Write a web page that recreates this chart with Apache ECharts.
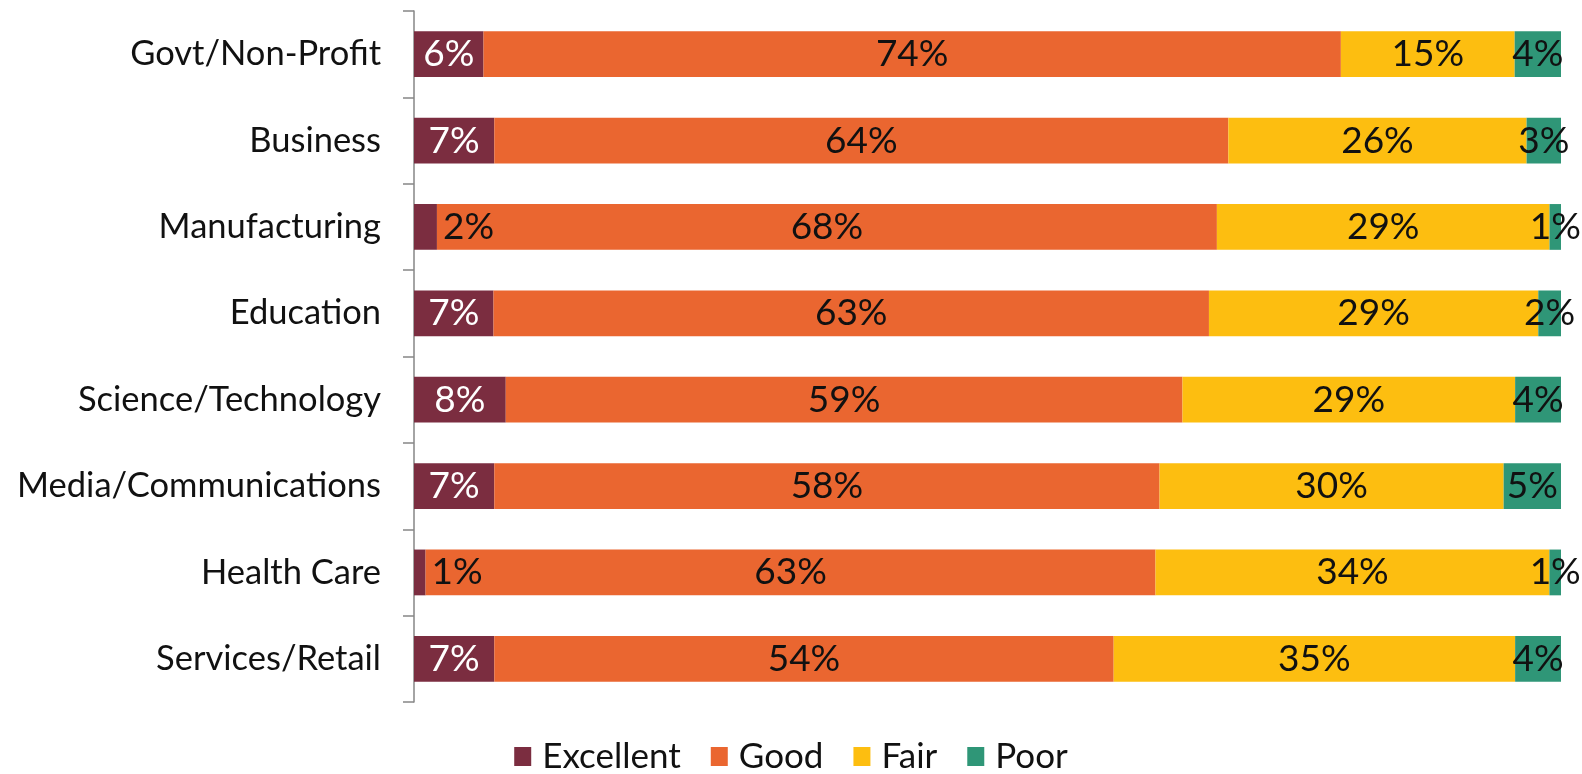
<!DOCTYPE html>
<html>
<head>
<meta charset="utf-8">
<script src="https://cdn.jsdelivr.net/npm/echarts@6/dist/echarts.min.js"></script>
<style>
html,body{margin:0;padding:0;background:#fff;}
#chart{width:1582px;height:774px;}
</style>
</head>
<body>
<div id="chart"></div>
<script>
var categories = ['Govt/Non-Profit','Business','Manufacturing','Education','Science/Technology','Media/Communications','Health Care','Services/Retail'];
var seriesNames = ['Excellent','Good','Fair','Poor'];
var excellent = [6,7,2,7,8,7,1,7];
var good = [74,64,68,63,59,58,63,54];
var fair = [15,26,29,29,29,30,34,35];
var poor = [4,3,1,2,4,5,1,4];

var raw = [excellent, good, fair, poor];
var colors = ['#7B2D40','#EA6630','#FDBE10','#2F9677'];
var FONT = 'Lato';

function rowTotal(i){ return excellent[i]+good[i]+fair[i]+poor[i]; }

var series = raw.map(function(arr, s){
  return {
    name: seriesNames[s],
    type: 'bar',
    stack: 'total',
    barCategoryGap: '47%',
    itemStyle: {color: colors[s]},
    label: {
      show: true,
      position: 'inside',
      color: s === 0 ? '#ffffff' : '#111111',
      fontFamily: FONT,
      fontSize: 37,
      formatter: function(p){ return raw[p.seriesIndex][p.dataIndex] + '%'; }
    },
    data: arr.map(function(v, i){
      var item = {value: v / rowTotal(i) * 100};
      if (s === 0 && v < 3) {
        item.label = {position: 'right', distance: 6, color: '#111111'};
      }
      return item;
    })
  };
});

var chart = echarts.init(document.getElementById('chart'));
chart.setOption({
  animation: false,
  backgroundColor: '#ffffff',
  grid: {left: 414, right: 21, top: 11, bottom: 72, containLabel: false},
  legend: {
    bottom: -5,
    left: 'center',
    itemWidth: 17,
    itemHeight: 19,
    itemGap: 30,
    icon: 'rect',
    textStyle: {fontFamily: FONT, fontSize: 35, color: '#111111', padding: [0,0,0,6]},
    data: seriesNames
  },
  xAxis: {
    type: 'value', min: 0, max: 100, show: false
  },
  yAxis: {
    type: 'category',
    inverse: true,
    data: categories,
    axisLine: {show: true, lineStyle: {color: '#868686', width: 1.5}},
    axisTick: {show: true, length: 11, lineStyle: {color: '#868686', width: 1.5}},
    axisLabel: {fontFamily: FONT, fontSize: 34.5, color: '#111111', margin: 33}
  },
  series: series
});
</script>
</body>
</html>
